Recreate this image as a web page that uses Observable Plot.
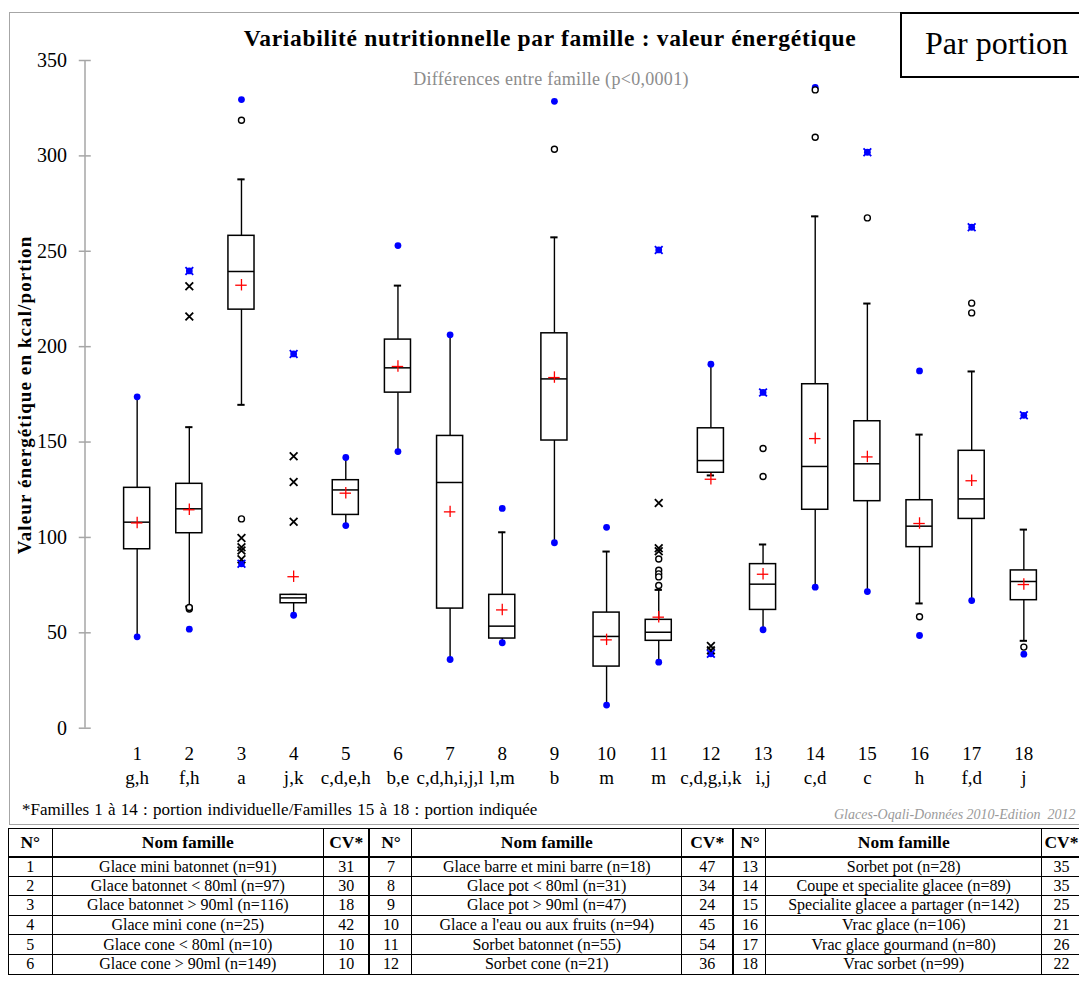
<!DOCTYPE html>
<html>
<head>
<meta charset="utf-8">
<script src="https://cdn.jsdelivr.net/npm/d3@7"></script>
<script src="https://cdn.jsdelivr.net/npm/@observablehq/plot@0.6"></script>
<style>
  html, body { margin: 0; padding: 0; background: #fff; }
  #wrap { position: relative; width: 1079px; height: 987px; overflow: hidden; font-family: "Liberation Serif", serif; color: #000; }
  #frame { position: absolute; left: 9px; top: 12px; width: 1100px; height: 811px; border: 1.5px solid #a6a6a6; pointer-events: none; }
  #chart { position: absolute; left: 0; top: 0; }
  #title { position: absolute; left: 0; width: 1100px; top: 25px; text-align: center; font-weight: bold; font-size: 23.5px; letter-spacing: 0.7px; }
  #subtitle { position: absolute; left: 0; width: 1102px; top: 69px; text-align: center; color: #8c8c8c; font-size: 18px; letter-spacing: 0.3px; }
  #badge { position: absolute; left: 900px; top: 12px; width: 200px; height: 62px; border: 2px solid #000; background: #fff; }
  #badge span { position: absolute; left: 23px; top: 11px; font-size: 32px; }
  #ylabel { position: absolute; left: 25px; top: 395px; transform: translate(-50%, -50%) rotate(-90deg); white-space: nowrap; font-weight: bold; font-size: 19px; letter-spacing: 1.1px; }
  #note { position: absolute; left: 22px; top: 800px; font-size: 17px; word-spacing: 1px; white-space: nowrap; }
  #source { position: absolute; left: 834px; top: 807px; font-size: 14px; font-style: italic; color: #9a9a9a; white-space: nowrap; }
  table { position: absolute; left: 8px; top: 828px; width: 1073px; border-collapse: collapse; font-size: 16px; table-layout: fixed; }
  td, th { border: 1px solid #000; text-align: center; padding: 0; line-height: 18px; white-space: nowrap; overflow: hidden; }
  tr { height: 19.6px; }
  tr.h { height: 28px; }
  th { font-weight: bold; font-size: 17.5px; border-bottom: 2.5px solid #000; }
  .g { border-left: 2.5px solid #000; }
</style>
</head>
<body>
<div id="wrap">
  <div id="chart"></div>
  <div id="frame"></div>
  <div id="title">Variabilité nutritionnelle par famille : valeur énergétique</div>
  <div id="subtitle">Différences entre famille (p&lt;0,0001)</div>
  <div id="badge"><span>Par portion</span></div>
  <div id="ylabel">Valeur énergétique en kcal/portion</div>
  <div id="note">*Familles 1 à 14 : portion individuelle/Familles 15 à 18 : portion indiquée</div>
  <div id="source">Glaces-Oqali-Données 2010-Edition&nbsp; 2012</div>
  <table id="tbl"></table>
</div>
<script>
// ---- data ----
const families = [1,2,3,4,5,6,7,8,9,10,11,12,13,14,15,16,17,18];
const letters = ["g,h","f,h","a","j,k","c,d,e,h","b,e","c,d,h,i,j,l","l,m","b","m","m","c,d,g,i,k","i,j","c,d","c","h","f,d","j"];
const q1      = [93.8,102.2,219.4,65.5,111.8,175.9,62.7,47.0,150.8,32.3,45.8,133.9,62.0,114.5,119.0,94.9,109.7,67.1];
const median  = [108.0,115.0,239.4,68.3,124.9,188.9,128.8,53.5,183.1,48.1,50.3,140.3,75.5,137.2,138.6,105.9,120.2,76.9];
const q3      = [126.0,128.1,258.1,69.9,130.0,203.7,153.2,69.9,207.0,60.6,56.8,157.2,86.0,180.3,160.9,119.5,145.4,82.7];
const mean    = [107.6,114.5,232.2,79.4,123.2,189.6,113.4,62.0,183.8,46.3,58.2,130.5,80.7,151.8,142.2,107.3,129.7,75.3];
const whiskerLow  = [47.9,63.8,169.5,59.2,106.2,145.0,36.0,44.8,97.2,12.1,34.6,132.5,51.6,73.9,71.6,65.4,66.9,45.8];
const whiskerHigh = [173.7,157.8,287.7,69.9,141.9,232.0,206.2,102.7,257.3,92.6,72.5,190.8,96.3,268.3,222.6,153.9,187.0,104.1];
const minimum = [47.9,51.9,86.2,59.2,106.2,145.0,36.0,44.8,97.2,12.1,34.6,39.0,51.6,73.9,71.6,48.6,66.9,38.8];
const maximum = [173.7,239.7,329.5,196.2,141.9,253.0,206.2,115.2,328.6,105.3,250.7,190.8,176.0,335.9,301.9,187.3,262.6,164.0];
const extremeMaxFamilies = [2,4,11,13,15,17,18];
const extremeMinFamilies = [3,12];
const outlierCircleFamily = [2,2,3,3,9,11,11,11,11,11,13,13,14,14,15,16,17,17,18];
const outlierCircleValue  = [62.5,63.3,318.7,109.7,303.5,88.7,82.8,80.9,79.3,74.8,146.6,131.9,334.6,309.8,267.5,58.4,222.8,217.7,42.5];
const outlierCrossFamily  = [2,2,3,3,3,3,4,4,4,11,11,11,12,12];
const outlierCrossValue   = [231.7,215.8,99.7,94.8,93.2,88.6,142.6,129.1,108.2,118.0,94.3,92.8,43.1,40.8];
const yTicks = [0,50,100,150,200,250,300,350];

// table
const tableNames = ["Glace mini batonnet (n=91)","Glace batonnet < 80ml (n=97)","Glace batonnet > 90ml  (n=116)","Glace mini cone (n=25)","Glace cone < 80ml (n=10)","Glace cone > 90ml (n=149)",
  "Glace barre et mini barre (n=18)","Glace pot < 80ml (n=31)","Glace pot > 90ml (n=47)","Glace a l'eau ou aux fruits (n=94)","Sorbet batonnet (n=55)","Sorbet cone (n=21)",
  "Sorbet pot (n=28)","Coupe et specialite glacee (n=89)","Specialite glacee a partager (n=142)","Vrac glace (n=106)","Vrac glace gourmand (n=80)","Vrac sorbet (n=99)"];
const tableCV = [31,30,18,42,10,10,47,34,24,45,54,36,35,35,25,21,26,22];
const tableHeader = ["N°", "Nom famille", "CV*"];

// ---- build ----
const rows = families.map((f, i) => ({
  f, q1: q1[i], med: median[i], q3: q3[i], mean: mean[i],
  wl: whiskerLow[i], wh: whiskerHigh[i], min: minimum[i], max: maximum[i]
}));
const circles = outlierCircleFamily.map((f, i) => ({f, v: outlierCircleValue[i]}));
const crosses = outlierCrossFamily.map((f, i) => ({f, v: outlierCrossValue[i]}));
const minmax = rows.flatMap(d => [{f: d.f, v: d.min}, {f: d.f, v: d.max}]);
const extremes = [
  ...extremeMaxFamilies.map(f => ({f, v: maximum[f - 1]})),
  ...extremeMinFamilies.map(f => ({f, v: minimum[f - 1]}))
];
const hw = 0.25, cap = 0.07, mh = 0.11;

const chart = Plot.plot({
  width: 1079,
  height: 826,
  marginLeft: 84.5,
  marginRight: 3.5,
  marginTop: 60,
  marginBottom: 98.3,
  style: {fontFamily: "Liberation Serif, serif", fontSize: "20px", background: "transparent", color: "#000"},
  x: {domain: [0, 19], axis: null},
  y: {domain: [0, 350], axis: null},
  marks: [
    Plot.ruleX([0], {y1: 0, y2: 350, stroke: "#a6a6a6", strokeWidth: 1.5}),
    Plot.ruleY(yTicks, {x1: -0.11, x2: 0.12, stroke: "#a6a6a6", strokeWidth: 1.5}),
    Plot.axisY({ticks: yTicks, tickSize: 0, tickPadding: 18, fontSize: 20, label: null, tickFormat: d => String(d)}),
    Plot.axisX({ticks: families, tickSize: 0, tickPadding: 15, fontSize: 19, lineHeight: 1.27, label: null,
      tickFormat: d => `${d}\n${letters[d - 1]}`}),
    Plot.ruleX(rows, {x: "f", y1: "q3", y2: "wh", stroke: "#000", strokeWidth: 1.4}),
    Plot.ruleX(rows, {x: "f", y1: "wl", y2: "q1", stroke: "#000", strokeWidth: 1.4}),
    Plot.ruleY(rows.filter(d => d.wh !== d.max), {y: "wh", x1: d => d.f - cap, x2: d => d.f + cap, stroke: "#000", strokeWidth: 2}),
    Plot.ruleY(rows.filter(d => d.wl !== d.min), {y: "wl", x1: d => d.f - cap, x2: d => d.f + cap, stroke: "#000", strokeWidth: 2}),
    Plot.rect(rows, {x1: d => d.f - hw, x2: d => d.f + hw, y1: "q1", y2: "q3", fill: "#fff", stroke: "#000", strokeWidth: 1.5}),
    Plot.ruleY(rows, {y: "med", x1: d => d.f - hw, x2: d => d.f + hw, stroke: "#000", strokeWidth: 1.5}),
    Plot.ruleY(rows, {y: "mean", x1: d => d.f - mh, x2: d => d.f + mh, stroke: "#ff0000", strokeWidth: 1.3}),
    Plot.ruleX(rows, {x: "f", y1: d => d.mean - 3, y2: d => d.mean + 3, stroke: "#ff0000", strokeWidth: 1.3}),
    Plot.dot(minmax, {x: "f", y: "v", r: 3.4, fill: "#0000ff", stroke: "none"}),
    Plot.dot(circles, {x: "f", y: "v", r: 3, fill: "#fff", stroke: "#000", strokeWidth: 1.4}),
    Plot.dot(crosses, {x: "f", y: "v", symbol: "times", r: 3.6, stroke: "#000", strokeWidth: 1.8}),
    Plot.dot(extremes, {x: "f", y: "v", symbol: "times", r: 3.6, stroke: "#0000ff", strokeWidth: 1.8})
  ]
});
document.getElementById("chart").appendChild(chart);

// table (3 groups of 6 families)
const widths = [43.6, 271.4, 46, 42.5, 269.5, 52, 32.5, 275.5, 40];
const tbl = document.getElementById("tbl");
const cg = document.createElement("colgroup");
widths.forEach(w => { const c = document.createElement("col"); c.style.width = w + "px"; cg.appendChild(c); });
tbl.appendChild(cg);
const head = document.createElement("tr");
head.className = "h";
for (let g = 0; g < 3; g++) {
  tableHeader.forEach((t, k) => {
    const th = document.createElement("th"); th.textContent = t;
    if (k === 0 && g > 0) th.className = "g";
    head.appendChild(th);
  });
}
tbl.appendChild(head);
for (let r = 0; r < 6; r++) {
  const tr = document.createElement("tr");
  for (let g = 0; g < 3; g++) {
    const i = g * 6 + r;
    [String(families[i]), tableNames[i], String(tableCV[i])].forEach((t, k) => {
      const td = document.createElement("td"); td.textContent = t;
      if (k === 0 && g > 0) td.className = "g";
      tr.appendChild(td);
    });
  }
  tbl.appendChild(tr);
}
</script>
</body>
</html>
